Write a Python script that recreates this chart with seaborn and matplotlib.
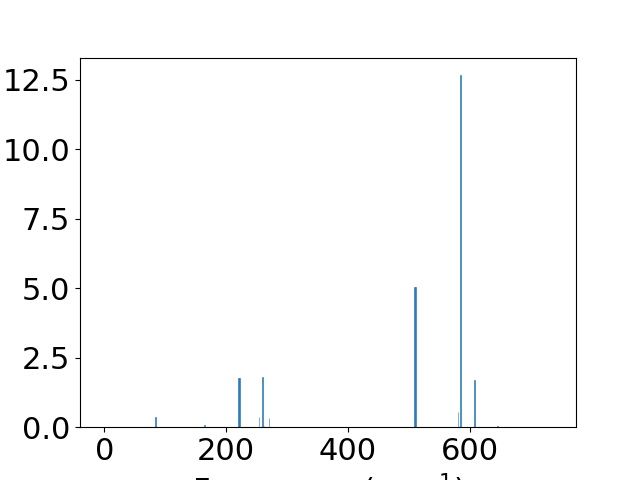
import pandas as pd
import numpy as np
import matplotlib
matplotlib.use("Agg")
import matplotlib.pyplot as plt
import seaborn as sns


# stick spectrum (frequency in cm^-1, intensity)
frequency = [-2.4, 84, 164, 220, 221.5, 254, 260, 262, 270.5,
             509, 510.5, 581, 585, 608, 646, 737]
intensity = [0.0, 0.36, 0.07, 1.76, 1.76, 0.36, 1.80, 0.05, 0.32,
             5.05, 5.05, 0.54, 12.66, 1.69, 0.05, 0.0]

df = pd.DataFrame({"freq": frequency, "inten": intensity})

plt.rcParams['font.size'] = 22
plt.rcParams['font.family'] = ['DejaVu Sans']

fig, ax = plt.subplots(figsize=(6.4, 4.8), dpi=100)

# near-degenerate pairs (1.5 cm^-1 apart) set the stick width;
# a thin edge keeps the single sticks visible at this size
sns.barplot(data=df, x="freq", y="inten", native_scale=True,
            width=0.8, color="#1f77b4", saturation=1, errorbar=None,
            edgecolor="#1f77b4", linewidth=0.4, ax=ax)

ax.set_xlabel("Frequency (cm$^{-1}$)")
ax.set_ylabel("")

fig.savefig("out.png", dpi=100)
